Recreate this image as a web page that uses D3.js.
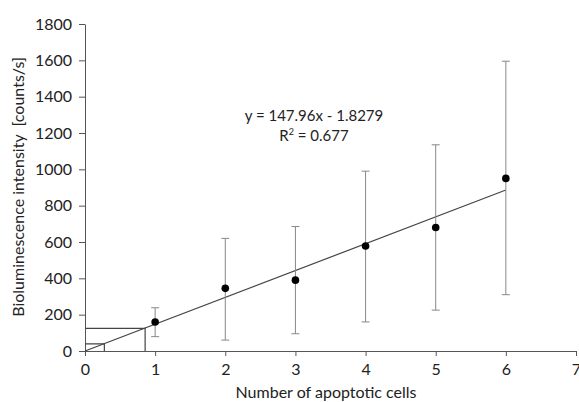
<!doctype html>
<html>
<head>
<script src="https://cdnjs.cloudflare.com/ajax/libs/d3/7.8.5/d3.min.js"></script>
<style>
body { margin: 0; background: #fff; }
text { font-family: Lato, "Open Sans", sans-serif; fill: #222; }
.axis path, .axis line { stroke: #555; }
.axis text { font-size: 16px; fill: #222; }
</style>
</head>
<body>
<svg width="579" height="402"></svg>
<script>
var cells = [1, 2, 3, 4, 5, 6];
var intensity = [160, 345, 390, 578, 680, 950];
var errHigh = [238, 620, 685, 990, 1135, 1595];
var errLow = [79, 60, 95, 160, 225, 310];
var xTicks = [0, 1, 2, 3, 4, 5, 6, 7];
var yTicks = [0, 200, 400, 600, 800, 1000, 1200, 1400, 1600, 1800];
var slope = 147.96, intercept = -1.8279;
var guides = [125, 39];

var svg = d3.select("svg");
var x = d3.scaleLinear().domain([0, 7]).range([85, 576]);
var y = d3.scaleLinear().domain([0, 1800]).range([351, 24]);

svg.append("g").attr("class", "axis")
  .attr("transform", "translate(0,351)")
  .call(d3.axisBottom(x).tickValues(xTicks).tickFormat(d3.format("d"))
    .tickSize(5).tickPadding(8).tickSizeOuter(0));
svg.append("g").attr("class", "axis")
  .attr("transform", "translate(85,0)")
  .call(d3.axisLeft(y).tickValues(yTicks).tickFormat(d3.format("d"))
    .tickSize(6).tickPadding(7).tickSizeOuter(0));

// guide boxes where the fit crosses a value
guides.forEach(function (v) {
  var gx = (v - intercept) / slope;
  svg.append("path")
    .attr("d", "M" + x(0) + "," + y(v) + "H" + x(gx) + "V" + y(0))
    .attr("fill", "none").attr("stroke", "#444").attr("stroke-width", 1.2);
});

// fit line
svg.append("line")
  .attr("x1", x(0)).attr("y1", y(Math.max(0, intercept)))
  .attr("x2", x(6)).attr("y2", y(slope * 6 + intercept))
  .attr("stroke", "#444").attr("stroke-width", 1.2);

var pts = cells.map(function (c, i) {
  return {x: c, y: intensity[i], hi: errHigh[i], lo: errLow[i]};
});

var eb = svg.append("g").selectAll("g").data(pts).enter().append("g");
eb.append("line")
  .attr("x1", d => x(d.x)).attr("x2", d => x(d.x))
  .attr("y1", d => y(d.hi)).attr("y2", d => y(d.lo))
  .attr("stroke", "#888").attr("stroke-width", 1);
eb.append("line")
  .attr("x1", d => x(d.x) - 4).attr("x2", d => x(d.x) + 4)
  .attr("y1", d => y(d.hi)).attr("y2", d => y(d.hi))
  .attr("stroke", "#888");
eb.append("line")
  .attr("x1", d => x(d.x) - 4).attr("x2", d => x(d.x) + 4)
  .attr("y1", d => y(d.lo)).attr("y2", d => y(d.lo))
  .attr("stroke", "#888");

svg.append("g").selectAll("circle").data(pts).enter().append("circle")
  .attr("cx", d => x(d.x)).attr("cy", d => y(d.y)).attr("r", 3.8)
  .attr("fill", "#000");

svg.append("text").attr("x", 314).attr("y", 121).attr("text-anchor", "middle")
  .style("font-size", "15px").text("y = 147.96x - 1.8279");
var r2 = svg.append("text").attr("x", 314).attr("y", 141).attr("text-anchor", "middle")
  .style("font-size", "15px");
r2.append("tspan").text("R");
r2.append("tspan").attr("dy", -6).style("font-size", "9px").text("2");
r2.append("tspan").attr("dy", 6).text(" = 0.677");

svg.append("text").attr("x", 326).attr("y", 398).attr("text-anchor", "middle")
  .style("font-size", "16px").text("Number of apoptotic cells");
svg.append("text")
  .attr("transform", "translate(24,187) rotate(-90)")
  .attr("text-anchor", "middle").style("font-size", "16px")
  .style("white-space", "pre")
  .text("Bioluminescence intensity  [counts/s]");
</script>
</body>
</html>
